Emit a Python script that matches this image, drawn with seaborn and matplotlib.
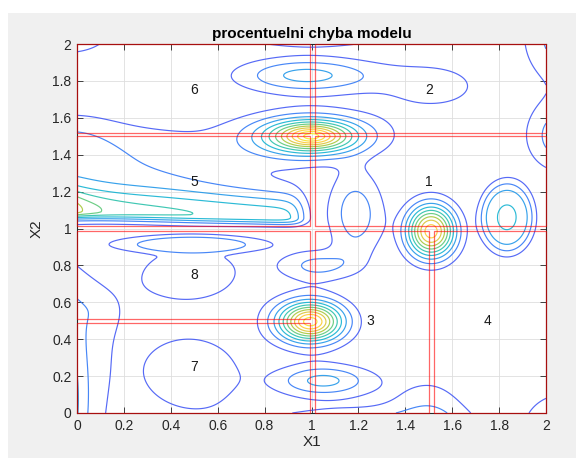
import numpy as np
import pandas as pd
import matplotlib
matplotlib.use("Agg")
import matplotlib.pyplot as plt
from matplotlib.colors import LinearSegmentedColormap, Normalize
from matplotlib.patches import Rectangle
import seaborn as sns

# ---------------------------------------------------------------
# Percent-error surface of the piecewise model, described as a sum
# of local error humps (centre, height, spread, sharpness).
# ---------------------------------------------------------------
hump_name = ["P1", "P2", "P3", "P4", "T1", "T2", "T3", "TL", "RB1", "RB2",
             "BR", "BL1", "BL2", "Q1", "Q2", "B3", "E1", "E2", "C7",
             "LL1", "LL2", "BAND", "LB"]
hump_x    = [1.00, 0.995, 1.51, 1.833, 0.98, 1.52, 1.00, -0.05, 2.10, 2.07,
             2.08, 1.50, 1.15, 1.19, 1.03, 1.05, 0.50, 0.50, 0.50,
             -0.30, 0.00, 0.25, -0.05]
hump_y    = [1.50, 0.495, 0.985, 1.06, 1.83, 1.77, 2.12, 2.06, 2.05, 1.50,
             -0.05, -0.15, -0.10, 1.075, 0.80, 0.175, 0.915, 0.76, 0.205,
             0.05, 0.55, 1.34, 1.45]
hump_amp  = [11.6, 10.6, 9.6, 4.05, 3.35, 1.35, 14.0, 2.0, 2.92, 2.74,
             1.5, 3.0, 2.86, 2.2, 2.3, 3.3, 1.9, 1.5, 1.8,
             62.0, 1.2, 1.8, 1.4]
hump_sx   = [0.19, 0.134, 0.102, 0.117, 0.29, 0.26, 0.27, 0.212, 0.184, 0.151,
             0.236, 0.153, 0.40, 0.125, 0.17, 0.20, 0.34, 0.24, 0.22,
             0.10, 0.28, 0.55, 0.212]
hump_sy   = [0.085, 0.1055, 0.14, 0.197, 0.095, 0.16, 0.08, 0.127, 0.255, 0.19,
             0.236, 0.275, 0.113, 0.243, 0.085, 0.085, 0.05, 0.17, 0.215,
             0.22, 0.18, 0.25, 0.17]
hump_pow  = [1.5, 1.8, 2, 4, 2, 2, 2, 2, 2, 2,
             2, 1.5, 2, 3, 2, 2, 4, 2, 2,
             1, 1, 2, 2]

# error ridge running along the 5/8 region border
ridge_base, ridge_head, ridge_head_len = 4.4, 2.2, 0.10
ridge_end, ridge_end_w = 0.96, 0.025
ridge_y0, ridge_slope = 1.095, -0.04
ridge_up, ridge_down = 0.096, 0.03

contour_levels = list(range(1, 12))

# model regions: label, x0, x1, y0, y1 (boundaries as drawn)
region_label = ["6", "2", "5", "1", "8", "7", "3", "4"]
region_x0 = [0.0, 1.014, 0.0, 1.014, 0.0, 0.0, 1.014, 1.522]
region_x1 = [0.994, 2.0, 0.994, 2.0, 0.994, 0.994, 1.5, 2.0]
region_y0 = [1.519, 1.519, 1.015, 1.015, 0.508, 0.0, 0.0, 0.0]
region_y1 = [2.0, 2.0, 1.501, 1.501, 0.988, 0.49, 0.988, 0.988]
label_x = [0.5, 1.5, 0.5, 1.5, 0.5, 0.5, 1.25, 1.75]
label_y = [1.75, 1.75, 1.25, 1.25, 0.75, 0.25, 0.5, 0.5]

ticks = [0, 0.2, 0.4, 0.6, 0.8, 1, 1.2, 1.4, 1.6, 1.8, 2]
tick_labels = ["0", "0.2", "0.4", "0.6", "0.8", "1", "1.2", "1.4", "1.6", "1.8", "2"]

# parula-like colour map
parula_pos = [0.0, 0.111, 0.238, 0.365, 0.492, 0.619, 0.746, 0.873, 1.0]
parula_rgb = [(0.2422, 0.1504, 0.6603), (0.2810, 0.3228, 0.9579),
              (0.1786, 0.5289, 0.9682), (0.0689, 0.6948, 0.8394),
              (0.2161, 0.7843, 0.5923), (0.6720, 0.7793, 0.2227),
              (0.9970, 0.7659, 0.2199), (0.9657, 0.9000, 0.1650),
              (0.9769, 0.9839, 0.0805)]
parula = LinearSegmentedColormap.from_list("parula", list(zip(parula_pos, parula_rgb)))

# ---------------------------------------------------------------
sns.set_theme(style="white")
plt.rcParams["font.family"] = ["Liberation Sans", "DejaVu Sans"]

gx = np.linspace(0, 2, 401)
gy = np.linspace(0, 2, 401)
X, Y = np.meshgrid(gx, gy)

Z = np.zeros_like(X)
for x0, y0, a, sx, sy, p in zip(hump_x, hump_y, hump_amp, hump_sx, hump_sy, hump_pow):
    r2 = ((X - x0) / sx) ** 2 + ((Y - y0) / sy) ** 2
    Z += a * np.exp(-(r2 ** (p / 2.0)))

ridge_h = (ridge_base + ridge_head * np.exp(-X / ridge_head_len)) / (1 + np.exp((X - ridge_end) / ridge_end_w))
dy = Y - (ridge_y0 + ridge_slope * X)
sig = np.where(dy > 0, ridge_up, ridge_down)
Z += ridge_h * np.exp(-0.5 * (dy / sig) ** 2)

fig = plt.figure(figsize=(5.76, 4.58), dpi=100, facecolor="white")
fig.patches.append(Rectangle((8 / 576, 0), 1, 1 - 13 / 458, transform=fig.transFigure,
                             facecolor="#f0f0f0", edgecolor="none", zorder=-10))
ax = fig.add_axes([77 / 576, 1 - 413 / 458, 469 / 576, 369 / 458])
ax.set_facecolor("white")

norm = Normalize(vmin=-0.6, vmax=float(Z.max()))
ax.contour(X, Y, Z, levels=contour_levels, cmap=parula, norm=norm,
           linewidths=0.85, alpha=0.9, zorder=2)

# region borders
rows = []
for lab, x0, x1, y0, y1 in zip(region_label, region_x0, region_x1, region_y0, region_y1):
    for k, (px, py) in enumerate([(x0, y0), (x1, y0), (x1, y1), (x0, y1), (x0, y0)]):
        rows.append({"region": lab, "order": k, "x": px, "y": py})
borders = pd.DataFrame(rows)
sns.lineplot(data=borders, x="x", y="y", units="region", estimator=None, sort=False,
             color="red", alpha=0.6, linewidth=0.9, ax=ax, zorder=4, legend=False)
for line in ax.lines:
    line.set_clip_on(False)

for lab, lx, ly in zip(region_label, label_x, label_y):
    ax.text(lx, ly, lab, ha="center", va="center", fontsize=10, color="#1a1a1a", zorder=5)

ax.set_xlim(0, 2)
ax.set_ylim(0, 2)
ax.set_xticks(ticks)
ax.set_yticks(ticks)
ax.set_xticklabels(tick_labels)
ax.set_yticklabels(tick_labels)
ax.grid(True, color="#dedede", linewidth=0.6, zorder=0)
ax.set_axisbelow(True)
ax.tick_params(direction="in", length=4, width=0.6, colors="#262626", labelsize=10,
               top=True, right=True, bottom=True, left=True, pad=4)
for s in ax.spines.values():
    s.set_color("#262626")
    s.set_linewidth(0.8)
ax.set_xlabel("X1", fontsize=11, color="#262626", labelpad=2)
ax.set_ylabel("X2", fontsize=11, color="#262626", labelpad=6)
ax.set_title("procentuelni chyba modelu", fontsize=11, fontweight="bold", color="black", pad=4)

fig.savefig("out.png", dpi=100, facecolor=fig.get_facecolor())
